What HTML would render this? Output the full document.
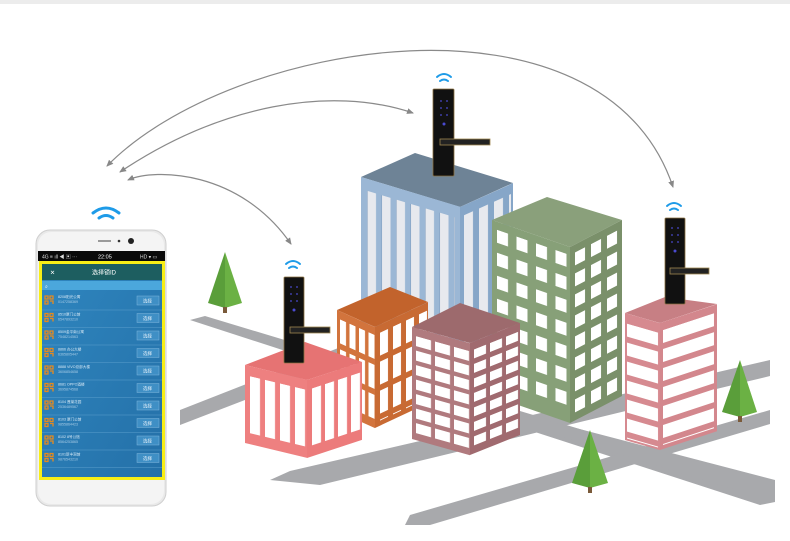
<!DOCTYPE html>
<html><head><meta charset="utf-8"><style>
html,body{margin:0;padding:0;background:#fff;}
svg{display:block;}
text{font-family:"Liberation Sans","Noto Sans CJK SC",sans-serif;}
</style></head><body>
<svg width="790" height="541" viewBox="0 0 790 541" xmlns="http://www.w3.org/2000/svg">
<defs>
<marker id="ar" markerWidth="8" markerHeight="8" refX="6" refY="4" orient="auto" markerUnits="userSpaceOnUse"><path d="M0,1 L7,4 L0,7 Z" fill="#888"/></marker>
<marker id="al" markerWidth="8" markerHeight="8" refX="2" refY="4" orient="auto" markerUnits="userSpaceOnUse"><path d="M8,1 L1,4 L8,7 Z" fill="#888"/></marker>
<pattern id="pBlueL" x="6" y="0" width="14.5" height="200" patternUnits="userSpaceOnUse"><rect x="0" y="0" width="9" height="200" fill="#e7e9ee"/><rect x="-1" y="0" width="1.5" height="200" fill="#7c9bbd"/></pattern>
<pattern id="pBlueR" x="4" y="0" width="15" height="200" patternUnits="userSpaceOnUse"><rect x="0" y="0" width="9" height="200" fill="#e7e9ee"/></pattern>
<pattern id="pGreenL" x="5" y="8" width="19.5" height="23" patternUnits="userSpaceOnUse"><rect x="0" y="0" width="11" height="13" fill="#fff"/></pattern>
<pattern id="pGreenR" x="5" y="8" width="16" height="21" patternUnits="userSpaceOnUse"><rect x="0" y="0" width="10" height="13" fill="#fff"/></pattern>
<pattern id="pOrL" x="3" y="8" width="9.5" height="30" patternUnits="userSpaceOnUse"><rect x="0" y="0" width="6" height="24" fill="#fff"/></pattern>
<pattern id="pOrR" x="5" y="8" width="13" height="29" patternUnits="userSpaceOnUse"><rect x="0" y="0" width="8" height="23" fill="#fff"/></pattern>
<pattern id="pMaL" x="4" y="8" width="19" height="14.5" patternUnits="userSpaceOnUse"><rect x="0" y="0" width="15" height="10" fill="#fff"/></pattern>
<pattern id="pMaR" x="4" y="8" width="16" height="14.5" patternUnits="userSpaceOnUse"><rect x="0" y="0" width="12" height="9" fill="#fff"/></pattern>
<pattern id="pPkL" x="5" y="10" width="15" height="80" patternUnits="userSpaceOnUse"><rect x="0" y="0" width="10" height="57" fill="#fff"/></pattern>
<pattern id="pPkR" x="5" y="10" width="13" height="80" patternUnits="userSpaceOnUse"><rect x="0" y="0" width="9" height="57" fill="#fff"/></pattern>
<pattern id="pPRL" x="2" y="10" width="40" height="19" patternUnits="userSpaceOnUse"><rect x="0" y="0" width="31" height="13" fill="#fff"/></pattern>
<pattern id="pPRR" x="3" y="8" width="60" height="19" patternUnits="userSpaceOnUse"><rect x="0" y="0" width="51" height="13" fill="#fff"/></pattern>
<linearGradient id="scr" x1="0" y1="0" x2="1" y2="1"><stop offset="0" stop-color="#2f86bf"/><stop offset="1" stop-color="#2470a8"/></linearGradient>
</defs>
<rect x="0" y="0" width="790" height="4" fill="#ececec"/>

<!-- roads -->
<g fill="#a8a9ac">
<polygon points="190,320 205,316 775,488 775,502 760,505"/>
<polygon points="180,425 180,410 430,312 432,328"/>
<polygon points="270,480 290,471 770,360 770,376 320,485"/>
<polygon points="405,525 410,515 770,410 770,424 430,525"/>
<polygon points="540,430 545,420 775,480 775,495 760,497"/>
</g>

<!-- arcs -->
<g fill="none" stroke="#8a8a8a" stroke-width="1.2">
<path d="M107,166 C230,40 603,-22 673,187" marker-start="url(#al)" marker-end="url(#ar)"/>
<path d="M120,172 C220,105 330,85 413,113" marker-start="url(#al)" marker-end="url(#ar)"/>
<path d="M128,180 C155,168 240,170 291,244" marker-start="url(#al)" marker-end="url(#ar)"/>
</g>

<!-- blue tower -->
<polygon points="361,177 415,153 513,183 460,207" fill="#6e8396"/>
<g transform="matrix(1,0.3,0,1,361,177)"><rect width="99" height="170" fill="#9bb7d5"/><rect x="6" y="12" width="88" height="160" fill="url(#pBlueL)"/></g>
<g transform="matrix(1,-0.45,0,1,460,207)"><rect width="53" height="170" fill="#86a6c8"/><rect x="4" y="10" width="47" height="160" fill="url(#pBlueR)"/></g>

<!-- green tower -->
<polygon points="492,220 547,197 622,220 570,247" fill="#8aa07b"/>
<g transform="matrix(1,0.346,0,1,492,220)"><rect width="78" height="176" fill="#87a078"/><rect x="5" y="8" width="74" height="160" fill="url(#pGreenL)"/></g>
<g transform="matrix(1,-0.52,0,1,570,247)"><rect width="52" height="176" fill="#7a906a"/><rect x="5" y="8" width="46" height="165" fill="url(#pGreenR)"/></g>

<!-- orange -->
<polygon points="337,310 390,287 428,302 375,327" fill="#c2632c"/>
<g transform="matrix(1,0.45,0,1,337,310)"><rect width="38" height="101" fill="#d2743d"/><rect x="3" y="8" width="36" height="88" fill="url(#pOrL)"/></g>
<g transform="matrix(1,-0.47,0,1,375,327)"><rect width="53" height="101" fill="#c86a33"/><rect x="5" y="8" width="48" height="88" fill="url(#pOrR)"/></g>

<!-- mauve -->
<polygon points="412,327 460,303 520,323 470,343" fill="#9d6a6d"/>
<g transform="matrix(1,0.28,0,1,412,327)"><rect width="58" height="112" fill="#b07a7e"/><rect x="4" y="8" width="56" height="100" fill="url(#pMaL)"/></g>
<g transform="matrix(1,-0.4,0,1,470,343)"><rect width="50" height="112" fill="#a06a6f"/><rect x="4" y="8" width="46" height="100" fill="url(#pMaR)"/></g>

<!-- pink left -->
<polygon points="245,365 305,342 362,362 307,380" fill="#e67373"/>
<g transform="matrix(1,0.24,0,1,245,365)"><rect width="62" height="78" fill="#ee8080"/><rect x="5" y="10" width="58" height="60" fill="url(#pPkL)"/></g>
<g transform="matrix(1,-0.33,0,1,307,380)"><rect width="55" height="78" fill="#ec7b7b"/><rect x="5" y="10" width="50" height="60" fill="url(#pPkR)"/></g>

<!-- pink right -->
<polygon points="625,313 665,297 717,304 660,323" fill="#c77f84"/>
<g transform="matrix(1,0.29,0,1,625,313)"><rect width="35" height="127" fill="#d68a90"/><rect x="2" y="10" width="33" height="115" fill="url(#pPRL)"/></g>
<g transform="matrix(1,-0.33,0,1,660,323)"><rect width="57" height="127" fill="#d3878d"/><rect x="3" y="8" width="54" height="115" fill="url(#pPRR)"/></g>

<!-- trees -->
<g>
<polygon points="225,252 208,303 225,308" fill="#5a9e3a"/><polygon points="225,252 242,303 225,308" fill="#6bb144"/><rect x="223" y="307" width="4" height="6" fill="#7a5a3a"/>
<polygon points="740,360 722,412 740,417" fill="#5a9e3a"/><polygon points="740,360 757,412 740,417" fill="#6bb144"/><rect x="738" y="416" width="4" height="6" fill="#7a5a3a"/>
<polygon points="590,430 572,483 590,488" fill="#5a9e3a"/><polygon points="590,430 608,483 590,488" fill="#6bb144"/><rect x="588" y="487" width="4" height="6" fill="#7a5a3a"/>
</g>

<!-- locks -->
<g>
<rect x="433" y="89" width="21" height="87" rx="1" fill="#111" stroke="#8a7040" stroke-width="0.8"/>
<rect x="440" y="139" width="50" height="6" fill="#222" stroke="#a08850" stroke-width="0.8"/>
<g fill="#4a4ad0"><circle cx="441" cy="101" r="0.9"/><circle cx="447" cy="101" r="0.9"/><circle cx="441" cy="108" r="0.9"/><circle cx="447" cy="108" r="0.9"/><circle cx="441" cy="115" r="0.9"/><circle cx="447" cy="115" r="0.9"/><circle cx="444" cy="124" r="1.5"/></g>

<rect x="284" y="277" width="20" height="86" rx="1" fill="#111" stroke="#8a7040" stroke-width="0.8"/>
<rect x="290" y="327" width="40" height="6" fill="#222" stroke="#a08850" stroke-width="0.8"/>
<g fill="#4a4ad0"><circle cx="291" cy="287" r="0.9"/><circle cx="297" cy="287" r="0.9"/><circle cx="291" cy="294" r="0.9"/><circle cx="297" cy="294" r="0.9"/><circle cx="291" cy="301" r="0.9"/><circle cx="297" cy="301" r="0.9"/><circle cx="294" cy="310" r="1.5"/></g>

<rect x="665" y="218" width="20" height="86" rx="1" fill="#111" stroke="#8a7040" stroke-width="0.8"/>
<rect x="670" y="268" width="39" height="6" fill="#222" stroke="#a08850" stroke-width="0.8"/>
<g fill="#4a4ad0"><circle cx="672" cy="228" r="0.9"/><circle cx="678" cy="228" r="0.9"/><circle cx="672" cy="235" r="0.9"/><circle cx="678" cy="235" r="0.9"/><circle cx="672" cy="242" r="0.9"/><circle cx="678" cy="242" r="0.9"/><circle cx="675" cy="251" r="1.5"/></g>
</g>

<!-- wifi -->
<g fill="none" stroke="#1e9be8" stroke-linecap="round">
<g stroke-width="2"><path d="M437,77 Q444,71 451,77"/><path d="M440,81 Q444,78 448,81"/></g>
<g stroke-width="2"><path d="M286,264 Q293,258 300,264"/><path d="M289,268 Q293,265 297,268"/></g>
<g stroke-width="2"><path d="M667,206 Q674,200 681,206"/><path d="M670,210 Q674,207 678,210"/></g>
<g stroke-width="3"><path d="M93,213 Q106,203 119,213"/><path d="M99,218 Q106,213 113,218"/></g>
</g>

<!-- phone -->
<rect x="36" y="230" width="130" height="276" rx="14" fill="#e9e9e9" stroke="#cfcfcf"/>
<rect x="38" y="232" width="126" height="272" rx="13" fill="#f4f4f4"/>
<rect x="98" y="240" width="13" height="2" fill="#9a9a9a"/><circle cx="119" cy="241" r="1.3" fill="#333"/><circle cx="131" cy="241" r="3" fill="#222"/>
<rect x="38" y="251" width="127" height="10" fill="#0a0a0a"/>
<text x="42" y="258.5" font-size="5" fill="#ddd">4G ≡ ıll ◀ ▣ ···</text>
<text x="98" y="258.5" font-size="5.5" fill="#fff">22:05</text>
<text x="140" y="258.5" font-size="5" fill="#ddd">HD ▾ ▭</text>
<rect x="39" y="261" width="126" height="219" fill="#f7ee16"/>
<rect x="42" y="264" width="120" height="213" fill="url(#scr)"/>
<rect x="42" y="264" width="120" height="16" fill="#1d5e60"/>
<text x="50" y="274.5" font-size="6" fill="#fff">✕</text>
<text x="92" y="274.5" font-size="6" fill="#fff">选择锁ID</text>
<rect x="42" y="281" width="120" height="9" fill="#4ba7dc"/>
<text x="45" y="288" font-size="5" fill="#fff">⌕</text>
<g font-size="3.6" fill="#d6e8f5">
<g transform="translate(0,293)"><text x="58" y="5">8208阳光公寓</text><text x="58" y="10" fill="#a8cce6">0147258369</text></g>
<g transform="translate(0,310.5)"><text x="58" y="5">8510厦门公馆</text><text x="58" y="10" fill="#a8cce6">6547893210</text></g>
<g transform="translate(0,328)"><text x="58" y="5">8509金平南公寓</text><text x="58" y="10" fill="#a8cce6">7548214563</text></g>
<g transform="translate(0,345.5)"><text x="58" y="5">8866 办公大楼</text><text x="58" y="10" fill="#a8cce6">6365805447</text></g>
<g transform="translate(0,363)"><text x="58" y="5">8888 VIVO总部大楼</text><text x="58" y="10" fill="#a8cce6">3606854658</text></g>
<g transform="translate(0,380.5)"><text x="58" y="5">8681 OPPO酒楼</text><text x="58" y="10" fill="#a8cce6">3695874568</text></g>
<g transform="translate(0,398)"><text x="58" y="5">8104 蓬莱花园</text><text x="58" y="10" fill="#a8cce6">2536489567</text></g>
<g transform="translate(0,415.5)"><text x="58" y="5">8103 厦门公馆</text><text x="58" y="10" fill="#a8cce6">9855864423</text></g>
<g transform="translate(0,433)"><text x="58" y="5">8102 8号公馆</text><text x="58" y="10" fill="#a8cce6">8564253865</text></g>
<g transform="translate(0,450.5)"><text x="58" y="5">8101新丰洞馆</text><text x="58" y="10" fill="#a8cce6">9876543210</text></g>
</g>
<g>
<g fill="none" stroke="#e58a1f" stroke-width="1.3">
<path d="M45,296 h3 v3 h-3z M50,296 h3 v3 h-3z M45,301 h3 v3 h-3z M50,301 h3 v3"/>
<path d="M45,313.5 h3 v3 h-3z M50,313.5 h3 v3 h-3z M45,318.5 h3 v3 h-3z M50,318.5 h3 v3"/>
<path d="M45,331 h3 v3 h-3z M50,331 h3 v3 h-3z M45,336 h3 v3 h-3z M50,336 h3 v3"/>
<path d="M45,348.5 h3 v3 h-3z M50,348.5 h3 v3 h-3z M45,353.5 h3 v3 h-3z M50,353.5 h3 v3"/>
<path d="M45,366 h3 v3 h-3z M50,366 h3 v3 h-3z M45,371 h3 v3 h-3z M50,371 h3 v3"/>
<path d="M45,383.5 h3 v3 h-3z M50,383.5 h3 v3 h-3z M45,388.5 h3 v3 h-3z M50,388.5 h3 v3"/>
<path d="M45,401 h3 v3 h-3z M50,401 h3 v3 h-3z M45,406 h3 v3 h-3z M50,406 h3 v3"/>
<path d="M45,418.5 h3 v3 h-3z M50,418.5 h3 v3 h-3z M45,423.5 h3 v3 h-3z M50,423.5 h3 v3"/>
<path d="M45,436 h3 v3 h-3z M50,436 h3 v3 h-3z M45,441 h3 v3 h-3z M50,441 h3 v3"/>
<path d="M45,453.5 h3 v3 h-3z M50,453.5 h3 v3 h-3z M45,458.5 h3 v3 h-3z M50,458.5 h3 v3"/>
</g>
<g fill="#3f8fc5" stroke="#7fb5dc" stroke-width="0.5">
<rect x="137" y="296" width="22" height="9"/><rect x="137" y="313.5" width="22" height="9"/><rect x="137" y="331" width="22" height="9"/><rect x="137" y="348.5" width="22" height="9"/><rect x="137" y="366" width="22" height="9"/><rect x="137" y="383.5" width="22" height="9"/><rect x="137" y="401" width="22" height="9"/><rect x="137" y="418.5" width="22" height="9"/><rect x="137" y="436" width="22" height="9"/><rect x="137" y="453.5" width="22" height="9"/>
</g>
<g font-size="4.5" fill="#e8f2fa">
<text x="143" y="302.5">选择</text><text x="143" y="320">选择</text><text x="143" y="337.5">选择</text><text x="143" y="355">选择</text><text x="143" y="372.5">选择</text><text x="143" y="390">选择</text><text x="143" y="407.5">选择</text><text x="143" y="425">选择</text><text x="143" y="442.5">选择</text><text x="143" y="460">选择</text>
</g>
<g stroke="#5b9dcb" stroke-width="0.6">
<line x1="42" y1="310" x2="162" y2="310"/><line x1="42" y1="327.5" x2="162" y2="327.5"/><line x1="42" y1="345" x2="162" y2="345"/><line x1="42" y1="362.5" x2="162" y2="362.5"/><line x1="42" y1="380" x2="162" y2="380"/><line x1="42" y1="397.5" x2="162" y2="397.5"/><line x1="42" y1="415" x2="162" y2="415"/><line x1="42" y1="432.5" x2="162" y2="432.5"/><line x1="42" y1="450" x2="162" y2="450"/><line x1="42" y1="467.5" x2="162" y2="467.5"/>
</g>
</g>
</svg>
</body></html>
